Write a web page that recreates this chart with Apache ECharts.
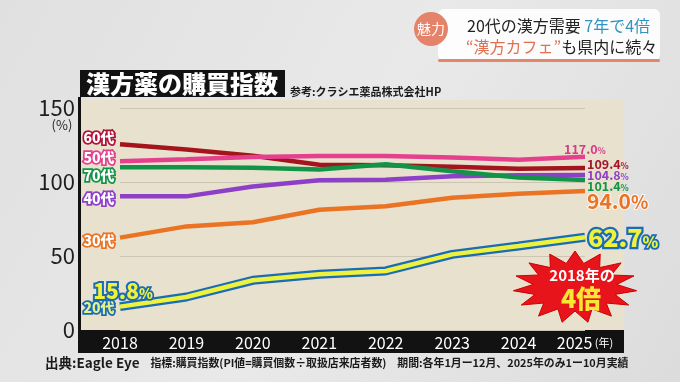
<!DOCTYPE html>
<html><head><meta charset="utf-8">
<script src="https://cdn.jsdelivr.net/npm/echarts@6/dist/echarts.min.js"></script>
<style>html,body{margin:0;padding:0;background:#e6e6e6}#c{width:680px;height:382px}</style>
</head><body><div id="c"></div>
<script>
// ---- data ----
const years = ['2018','2019','2020','2021','2022','2023','2024','2025'];
const yTicks = [0, 50, 100, 150];
const v20 = [15.8, 22.3, 33.6, 37.6, 39.9, 51.1, 56.8, 62.7];
const v30 = [62.4, 70.0, 72.8, 81.3, 83.6, 89.4, 92.1, 94.0];
const v40 = [90.3, 90.3, 97.0, 101.2, 101.6, 103.9, 104.5, 104.8];
const v50 = [114.0, 115.3, 116.9, 117.6, 117.6, 116.5, 115.1, 117.0];
const v60 = [125.5, 121.9, 117.7, 111.7, 111.4, 110.3, 109.0, 109.4];
const v70 = [109.9, 109.9, 109.7, 108.4, 112.0, 107.2, 103.0, 101.4];
const names = {v20:'20代', v30:'30代', v40:'40代', v50:'50代', v60:'60代', v70:'70代'};

const FONT = '"Noto Sans CJK JP", "Noto Sans", sans-serif';
const val = p => Number(Array.isArray(p.value) ? p.value[p.value.length-1] : p.value);

function startLabel(name, color, dy) {
  return {
    show: true, position: 'left', distance: 5, offset: [0, dy],
    formatter: p => p.dataIndex === 0 ? name : '',
    color: '#fff', fontFamily: FONT, fontWeight: 900, fontSize: 14,
    textBorderColor: color, textBorderWidth: 3.5
  };
}
function endLbl(color, off, big) {
  return {
    show: true, distance: 5, offset: off,
    formatter: p => '{v|' + val(p).toFixed(1) + '}{p|%}',
    rich: {
      v: {color: color, fontFamily: FONT, fontWeight: 'bold', fontSize: big ? 21 : 12.5,
          textBorderColor: big ? 'rgba(255,255,255,0.8)' : 'transparent', textBorderWidth: big ? 2 : 0},
      p: {color: color, fontFamily: FONT, fontWeight: 'bold', fontSize: big ? 18 : 8.5, verticalAlign: 'bottom',
          textBorderColor: big ? 'rgba(255,255,255,0.8)' : 'transparent', textBorderWidth: big ? 2 : 0}
    }
  };
}
function lineSeries(name, data, color, width, lbl, endL) {
  return {
    name: name, type: 'line', data: data, symbol: 'circle', symbolSize: 1, showSymbol: true, showAllSymbol: true,
    smooth: false, clip: false,
    lineStyle: {color: color, width: width}, itemStyle: {color: 'transparent', borderWidth: 0},
    label: lbl, endLabel: endL, silent: true
  };
}

// starburst shape
function starPoints(cx, cy, n, rxo, ryo, rxi, ryi) {
  const pts = [];
  for (let i = 0; i < n * 2; i++) {
    const a = Math.PI * i / n - Math.PI / 2;
    const o = i % 2 === 0;
    pts.push([cx + Math.cos(a) * (o ? rxo : rxi), cy + Math.sin(a) * (o ? ryo : ryi)]);
  }
  return pts;
}

const chart = echarts.init(document.getElementById('c'), null, {renderer: 'canvas'});
const option = {
  animation: false,
  backgroundColor: {type: 'linear', x: 0, y: 0, x2: 1, y2: 1,
    colorStops: [{offset: 0, color: '#e0e0e0'}, {offset: 0.5, color: '#e9e9e9'}, {offset: 1, color: '#dcdcdc'}]},
  grid: {left: 120, right: 95, top: 108, bottom: 52, containLabel: false},
  xAxis: {
    type: 'category', data: years, boundaryGap: false,
    axisLine: {show: false}, axisTick: {show: false}, splitLine: {show: false},
    axisLabel: {
      interval: 0,
      color: '#fff', fontFamily: FONT, fontSize: 16, margin: 5,
      formatter: (v, i) => i === years.length - 1 ? v + '{s| (年)}' : v,
      rich: {s: {color: '#fff', fontFamily: FONT, fontSize: 11}}
    }
  },
  yAxis: {
    type: 'value', min: yTicks[0], max: yTicks[yTicks.length-1], interval: 50,
    axisLine: {show: false}, axisTick: {show: false},
    axisLabel: {color: '#1e1e1e', fontFamily: FONT, fontSize: 22, margin: 45},
    splitLine: {lineStyle: {color: '#cdc5b3', width: 1.2}}
  },
  series: [
    lineSeries(names.v30, v30, '#ea7424', 4.5, startLabel(names.v30, '#ea7424', 3), endLbl('#ea7424', [-3, 10], true)),
    lineSeries(names.v40, v40, '#8e3fc8', 4.5, startLabel(names.v40, '#8e3fc8', 2), endLbl('#8e3fc8', [-3, 0])),
    lineSeries(names.v60, v60, '#a3141c', 4.5, startLabel(names.v60, '#b0123a', -7), endLbl('#a3142a', [-3, -4])),
    lineSeries(names.v70, v70, '#129448', 4.5, startLabel(names.v70, '#129448', 8), endLbl('#129448', [-3, 6])),
    lineSeries(names.v50, v50, '#e5408e', 4.5, startLabel(names.v50, '#e5408e', -4), endLbl('#d83a88', [-26, -8])),
    // 20代: blue outline under yellow line
    lineSeries(names.v20, v20, '#1a6cb4', 9, {
      show: true, position: 'left', distance: 5, offset: [0, 1],
      formatter: p => p.dataIndex === 0 ? names.v20 : '',
      color: '#e4f08c', fontFamily: FONT, fontWeight: 900, fontSize: 14,
      textBorderColor: '#1a6cb4', textBorderWidth: 3.5
    }, {show: false}),
    lineSeries(names.v20, v20, '#eef23c', 4.5, {
      show: true, position: 'top', distance: 5, offset: [3, 0],
      formatter: p => p.dataIndex === 0 ? '{v|' + val(p).toFixed(1) + '}{p|%}' : '',
      rich: {
        v: {color: '#f0f23a', fontFamily: FONT, fontWeight: 900, fontSize: 21, textBorderColor: '#1a6cb4', textBorderWidth: 4},
        p: {color: '#f0f23a', fontFamily: FONT, fontWeight: 900, fontSize: 14, verticalAlign: 'bottom', textBorderColor: '#1a6cb4', textBorderWidth: 3.5}
      }
    }, {
      show: true, distance: 4, offset: [-1, 0],
      formatter: p => '{v|' + val(p).toFixed(1) + '}{p|%}',
      rich: {
        v: {color: '#f0f23a', fontFamily: FONT, fontWeight: 900, fontSize: 25, textBorderColor: '#1a6cb4', textBorderWidth: 4.5},
        p: {color: '#f0f23a', fontFamily: FONT, fontWeight: 900, fontSize: 16, verticalAlign: 'bottom', textBorderColor: '#1a6cb4', textBorderWidth: 3.5}
      }
    })
  ],
  graphic: [
    // plot background + frame
    {type: 'rect', z: -10, shape: {x: 80, y: 100, width: 544, height: 230}, style: {fill: '#e8e1ce'}},
    {type: 'rect', z: -9, shape: {x: 78, y: 330, width: 546, height: 23}, style: {fill: '#121212'}},
    {type: 'rect', z: -9, shape: {x: 78, y: 97, width: 3, height: 235}, style: {fill: '#121212'}},
    // title
    {type: 'rect', z: 5, shape: {x: 80, y: 70, width: 205, height: 27}, style: {fill: '#121212'}},
    {type: 'text', z: 6, x: 182, y: 84, style: {text: '漢方薬の購買指数', fill: '#fff', font: '900 24px ' + FONT, textAlign: 'center', textVerticalAlign: 'middle'}},
    {type: 'text', z: 6, x: 290, y: 92, style: {text: '参考:クラシエ薬品株式会社HP', fill: '#1a1a1a', font: 'bold 11px ' + FONT, textAlign: 'left', textVerticalAlign: 'middle'}},
    {type: 'text', z: 6, x: 62, y: 125, style: {text: '(%)', fill: '#1e1e1e', font: '13px ' + FONT, textAlign: 'center', textVerticalAlign: 'middle'}},
    // starburst
    {type: 'polygon', z: 20, shape: {points: starPoints(575, 287, 15, 62, 36, 42, 24)}, style: {fill: '#e8141c', stroke: '#c00', lineWidth: 1}},
    {type: 'text', z: 21, x: 582, y: 275, style: {text: '2018年の', fill: '#fff', font: 'bold 15px ' + FONT, textAlign: 'center', textVerticalAlign: 'middle'}},
    {type: 'text', z: 21, x: 581, y: 298, style: {text: '4倍', fill: '#f6e834', font: '900 25px ' + FONT, textAlign: 'center', textVerticalAlign: 'middle'}},
    // top-right badge
    {type: 'rect', z: 30, shape: {x: 438, y: 9, width: 222, height: 52, r: 6}, style: {fill: 'rgba(255,255,255,0.88)'}},
    {type: 'rect', z: 31, shape: {x: 438, y: 59, width: 222, height: 3, r: 1.5}, style: {fill: '#e2876a'}},
    {type: 'circle', z: 32, shape: {cx: 431, cy: 29, r: 17}, style: {fill: '#e5826a'}},
    {type: 'text', z: 33, x: 431, y: 29, style: {text: '魅力', fill: '#fff', font: '14px ' + FONT, textAlign: 'center', textVerticalAlign: 'middle'}},
    {type: 'text', z: 33, x: 467, y: 26, style: {
      text: '{a|20代の漢方需要 }{b|7年で4倍}', textAlign: 'left', textVerticalAlign: 'middle',
      rich: {a: {fill: '#222', font: '16px ' + FONT}, b: {fill: '#3393c0', font: '16px ' + FONT}}}},
    {type: 'text', z: 33, x: 466, y: 47, style: {
      text: '{c|“漢方カフェ”}{a|も県内に続々}', textAlign: 'left', textVerticalAlign: 'middle',
      rich: {a: {fill: '#222', font: '16px ' + FONT}, c: {fill: '#e07050', font: '16px ' + FONT}}}},
    // footer
    {type: 'text', z: 6, x: 45, y: 363, style: {
      text: '{a|出典:Eagle Eye}{b|　指標:購買指数(PI値=購買個数÷取扱店来店者数)　期間:各年1月ー12月、2025年のみ1ー10月実績}',
      textAlign: 'left', textVerticalAlign: 'middle',
      rich: {a: {fill: '#1a1a1a', font: 'bold 13.5px ' + FONT}, b: {fill: '#1a1a1a', font: 'bold 10.9px ' + FONT}}}}
  ]
};
chart.setOption(option);
</script></body></html>
